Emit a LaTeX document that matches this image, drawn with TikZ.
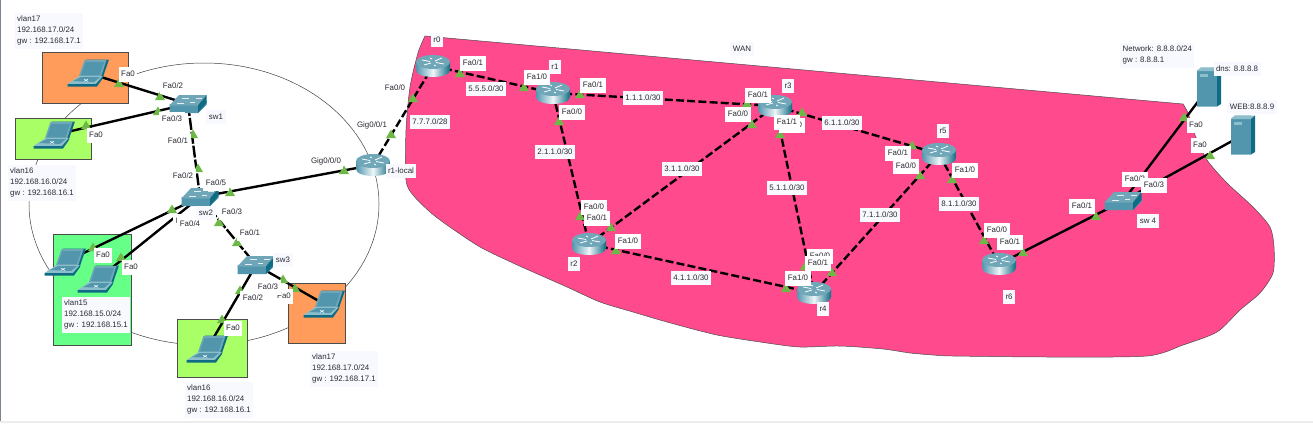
\documentclass[tikz,border=0pt]{standalone}
\usepackage{fontspec}
\setmainfont{Liberation Sans}
\definecolor{blobpink}{HTML}{FF4A8D}
\definecolor{ptgreen}{HTML}{6DB846}
\definecolor{orangebox}{HTML}{FF9C5C}
\definecolor{limebox}{HTML}{A8FF66}
\definecolor{mintbox}{HTML}{66FF88}
\definecolor{icontop}{HTML}{6FA6B8}
\definecolor{iconmain}{HTML}{5296AE}
\definecolor{icondark}{HTML}{0F6C84}
\definecolor{iconlight}{HTML}{8DBECB}
\definecolor{notebg}{HTML}{F8F9FF}
\definecolor{txt}{HTML}{2A2A33}
\definecolor{edgegray}{HTML}{7C8494}
\newcounter{lblc}
\tikzset{
 dev/.style={inner sep=0pt,outer sep=0pt,minimum width=#1,minimum height=20pt},
 solidlink/.style={line width=2.4pt,black},
 dashlink/.style={line width=2.4pt,black,dash pattern=on 8pt off 3.2pt},
 longdash/.style={line width=2.4pt,black,dash pattern=on 12pt off 2pt},
 vbox/.style={draw=black!70,line width=0.9pt},
 iflabel/.style={fill=white,inner xsep=2.5pt,inner ysep=0pt,minimum height=15pt,text=txt,font=\fontsize{7.9}{10}\selectfont},
 notelabel/.style={fill=notebg,inner xsep=2.5pt,inner ysep=0pt,minimum height=14pt,text=txt,font=\fontsize{7.9}{10}\selectfont},
 blocklabel/.style={fill=notebg,align=left,inner xsep=2.5pt,inner ysep=3pt,text=txt,font=\fontsize{7.9}{11}\selectfont},
}
\newcommand{\lbl}[3]{\stepcounter{lblc}\node[iflabel] (if\arabic{lblc}) at (#1,#2) {#3};}
\newcommand{\nlbl}[3]{\stepcounter{lblc}\node[notelabel] (nl\arabic{lblc}) at (#1,#2) {#3};}
\newcommand{\tri}[2]{\fill[ptgreen] (#1-5,#2+4) -- (#1,#2-4.5) -- (#1+5,#2+4) -- cycle;}
\newcommand{\routericon}[1]{\begin{scope}[shift={(#1.center)}]
 \path[left color=iconmain,right color=icondark,middle color=white!85!iconlight,shading angle=90] (-17,-4) -- (-17,4) .. controls (-17,13.3) and (17,13.3) .. (17,4) -- (17,-4) -- cycle;
 \fill[icontop] (0,-4) ellipse [x radius=17,y radius=7];
 \draw[white,line width=0.8pt] (-11,-6) -- (-3,-4.5) (3,-3.5) -- (11,-2) (-9,-1) -- (-2,-3) (2,-5) -- (9,-8) (-3,-8) -- (-1,-7) (1,-1) -- (3,0);
 \end{scope}}
\newcommand{\switchicon}[1]{\begin{scope}[shift={(#1.center)}]
 \fill[iconmain] (-18.5,0) -- (18.5,-3) -- (18.5,1) -- (10,9) -- (-18.5,9) -- cycle;
 \fill[icontop] (-18.5,1.5) -- (-9,-9) -- (18.5,-9) -- (10,1.5) -- cycle;
 \fill[icondark] (10,1.5) -- (18.5,-9) -- (18.5,-1) -- (10,9) -- cycle;
 \draw[white!85!iconmain,line width=0.7pt] (-11,-1) -- (-4,-1) (-6,-6) -- (1,-6) (2,-1.5) -- (7,-1.5) (8,-6) -- (14,-6);
 \end{scope}}
\newcommand{\laptopicon}[1]{\begin{scope}[shift={(#1.center)}]
 \fill[icondark] (-8,3) -- (-2,-13.5) -- (21,-13.5) -- (15,4) -- cycle;
 \fill[icontop] (-9,3) -- (-3.5,-13) -- (18.5,-13) -- (13,4) -- cycle;
 \fill[iconmain] (-7,2) -- (-2.5,-11) -- (16,-11) -- (11.5,2) -- cycle;
 \fill[iconlight] (-20.5,11) -- (-8.5,3) -- (15,3) -- (8,11) -- cycle;
 \fill[icondark] (-20.5,11) -- (8,11) -- (15,3) -- (15,5) -- (9,13.5) -- (-20.5,13.5) -- cycle;
 \fill[iconmain] (-15,8) -- (-7,4) -- (12,4) -- (6,9) -- cycle;
 \draw[white,line width=0.5pt] (-4,8.5) -- (0,6) (-4,6) -- (0,8.5);
 \end{scope}}
\newcommand{\servericon}[1]{\begin{scope}[shift={(#1.center)}]
 \fill[iconmain] (-12,-16) -- (-8,-19.5) -- (8,-19.5) -- (8,19.5) -- (-12,19.5) -- cycle;
 \fill[iconlight] (-12,-16) -- (-8,-19.5) -- (12,-19.5) -- (8,-16) -- cycle;
 \fill[icondark] (8,-16) -- (12,-19.5) -- (12,17) -- (8,19.5) -- cycle;
 \fill[iconlight] (-9.5,-13.5) rectangle (-1,-10.5);
 \end{scope}}
\begin{document}
\begin{tikzpicture}[x=1pt,y=-1pt]
\useasboundingbox (0,0) rectangle (1313,423);
\fill[white] (0,0) rectangle (1313,423);
\fill[edgegray] (0,0) rectangle (1.4,421);
\fill[black!7] (0,421) rectangle (1313,423);
% WAN cloud
\fill[blobpink,draw=black!70,line width=0.5pt] (425,36) -- (1183,104) -- plot[smooth,tension=0.45] coordinates {(1183,104) (1188,113) (1195,135) (1207,160)
 (1227,183) (1253,207) (1270,227) (1274,247) (1273,273) (1260,293) (1240,310) (1217,332)
 (1183,345) (1147,356) (1050,357) (953,356) (933,355) (910,353) (883,349) (840,346) (800,347) (767,343)
 (717,335) (667,322) (633,312) (600,302) (567,287) (533,272) (513,263) (480,247) (447,225)
 (430,212) (413,195) (406,180) (406,130) (410,87) (418,53) (425,36)} -- cycle;
% big ring
\draw[black!75,line width=0.5pt] (204,204) ellipse [x radius=175,y radius=141];
% VLAN boxes
\filldraw[fill=orangebox,vbox] (42,52) rectangle (128,103);
\filldraw[fill=limebox,vbox] (15,118) rectangle (91,159);
\filldraw[fill=mintbox,vbox] (53,234) rectangle (131,345);
\filldraw[fill=limebox,vbox] (177,319) rectangle (247,377);
\filldraw[fill=orangebox,vbox] (288,283) rectangle (345,343);
% device anchors
\node[dev=34pt] (r0) at (433,66) {};
\node[dev=34pt] (r1) at (553,93) {};
\node[dev=34pt] (r2) at (589,244) {};
\node[dev=34pt] (r3) at (775,106) {};
\node[dev=34pt] (r4) at (814,293) {};
\node[dev=34pt] (r5) at (939,154) {};
\node[dev=34pt] (r6) at (999,264) {};
\node[dev=34pt] (rl) at (373,165) {};
\node[dev=37pt] (sw1) at (188,104) {};
\node[dev=37pt] (sw2) at (200,197) {};
\node[dev=37pt] (sw3) at (256,265) {};
\node[dev=37pt] (sw4) at (1123,201) {};
\node[dev=40pt] (pc1) at (88,73) {};
\node[dev=40pt] (pc2) at (54,135) {};
\node[dev=40pt] (pc3) at (65,262) {};
\node[dev=40pt] (pc4) at (98,279) {};
\node[dev=40pt] (pc5) at (207,349) {};
\node[dev=40pt] (pc6) at (324,304) {};
\node[dev=24pt] (dns) at (1209,87) {};
\node[dev=24pt] (web) at (1243,135) {};
% links
\draw[solidlink] (pc1.center) -- (sw1.center);
\draw[solidlink] (pc2.center) -- (sw1.center);
\draw[longdash] (sw1.center) -- (sw2.center);
\draw[solidlink] (sw2.center) -- (rl.center);
\draw[solidlink] (sw2.center) -- (pc3.center);
\draw[solidlink] (sw2.center) -- (pc4.center);
\draw[longdash] (sw2.center) -- (sw3.center);
\draw[solidlink] (sw3.center) -- (pc5.center);
\draw[solidlink] (sw3.center) -- (pc6.center);
\draw[dashlink] (rl.center) -- (r0.center);
\draw[dashlink] (r0.center) -- (r1.center);
\draw[dashlink] (r1.center) -- (r3.center);
\draw[dashlink] (r1.center) -- (r2.center);
\draw[dashlink] (r2.center) -- (r3.center);
\draw[dashlink] (r2.center) -- (r4.center);
\draw[dashlink] (r3.center) -- (r4.center);
\draw[dashlink] (r3.center) -- (r5.center);
\draw[dashlink] (r4.center) -- (r5.center);
\draw[dashlink] (r5.center) -- (r6.center);
\draw[solidlink] (r6.center) -- (sw4.center);
\draw[solidlink] (sw4.center) -- (dns.center);
\draw[solidlink] (sw4.center) -- (web.center);
% link lights
\tri{119}{83}\tri{160}{96}\tri{158}{111}\tri{86}{125}\tri{193}{134}\tri{198}{168}\tri{230}{192}
\tri{344}{170}\tri{391}{134}\tri{172}{209}\tri{219}{222}\tri{237}{242}\tri{93}{247}\tri{121}{257}
\tri{240}{290}\tri{222}{319}\tri{283}{279}\tri{295}{288}\tri{413}{98}\tri{460}{73}\tri{524}{87}
\tri{580}{94}\tri{747}{103}\tri{752}{124}\tri{802}{112}\tri{780}{134}\tri{559}{121}\tri{580}{216}
\tri{611}{227}\tri{616}{250}\tri{786}{288}\tri{805}{266}\tri{832}{272}\tri{912}{145}\tri{920}{175}
\tri{952}{179}\tri{984}{240}\tri{1023}{252}\tri{1096}{216}\tri{1184}{117}\tri{1210}{155}
% icons
\routericon{r0}\routericon{r1}\routericon{r2}\routericon{r3}\routericon{r4}\routericon{r5}\routericon{r6}\routericon{rl}
\switchicon{sw1}\switchicon{sw2}\switchicon{sw3}\switchicon{sw4}
\laptopicon{pc1}\laptopicon{pc2}\laptopicon{pc3}\laptopicon{pc4}\laptopicon{pc5}\laptopicon{pc6}
\servericon{dns}\servericon{web}
% interface labels
\lbl{128}{74}{Fa0}\lbl{173}{86}{Fa0/2}\lbl{172}{119}{Fa0/3}\lbl{96}{135}{Fa0}\lbl{178}{141}{Fa0/1}
\lbl{183}{176}{Fa0/2}\lbl{216}{183}{Fa0/5}\lbl{232}{212}{Fa0/3}\lbl{186}{221}{Fa0/1}\lbl{190}{224}{Fa0/4}
\lbl{103}{255}{Fa0}\lbl{131}{267}{Fa0}\lbl{250}{233}{Fa0/1}\lbl{284}{296}{Fa0}\lbl{268}{287}{Fa0/3}
\lbl{253}{298}{Fa0/2}\lbl{233}{328}{Fa0}\lbl{372}{125}{Gig0/0/1}\lbl{326}{161}{Gig0/0/0}
\lbl{395}{88}{Fa0/0}\lbl{473}{63}{Fa0/1}\lbl{537}{77}{Fa1/0}\lbl{593}{85}{Fa0/1}\lbl{572}{112}{Fa0/0}
\lbl{738}{114}{Fa0/0}\lbl{758}{95}{Fa0/1}\lbl{792}{125}{Fa1/0}\lbl{787}{122}{Fa1/1}
\lbl{594}{207}{Fa0/0}\lbl{597}{218}{Fa0/1}\lbl{628}{241}{Fa1/0}\lbl{820}{256}{Fa0/0}\lbl{818}{263}{Fa0/1}\lbl{798}{278}{Fa1/0}
\lbl{898}{153}{Fa0/1}\lbl{906}{166}{Fa0/0}\lbl{965}{170}{Fa1/0}\lbl{997}{230}{Fa0/0}\lbl{1010}{242}{Fa0/1}
\lbl{1082}{206}{Fa0/1}\lbl{1135}{179}{Fa0/2}\lbl{1154}{185}{Fa0/3}\lbl{1196}{125}{Fa0}\lbl{1200}{145}{Fa0}
% subnets and names
\nlbl{742}{49}{WAN}\nlbl{437}{40}{r0}\nlbl{555}{67}{r1}\nlbl{788}{86}{r3}\nlbl{574}{264}{r2}\nlbl{823}{309}{r4}
\nlbl{943}{131}{r5}\nlbl{1009}{297}{r6}\nlbl{401}{171}{r1-local}\nlbl{216}{117}{sw1}\nlbl{206}{213}{sw2}\nlbl{283}{260}{sw3}\nlbl{1148}{221}{sw 4}
\nlbl{486}{89}{5.5.5.0/30}\nlbl{643}{98}{1.1.1.0/30}\nlbl{430}{122}{7.7.7.0/28}\nlbl{842}{123}{6.1.1.0/30}
\nlbl{555}{152}{2.1.1.0/30}\nlbl{682}{169}{3.1.1.0/30}\nlbl{787}{188}{5.1.1.0/30}\nlbl{880}{215}{7.1.1.0/30}
\nlbl{959}{204}{8.1.1.0/30}\nlbl{691}{278}{4.1.1.0/30}\nlbl{1237}{69}{dns: 8.8.8.8}\nlbl{1252}{107}{WEB:8.8.8.9}
% address blocks
\node[blocklabel,anchor=north west] (b17a) at (14.5,13) {vlan17\\192.168.17.0/24\\gw : 192.168.17.1};
\node[blocklabel,anchor=north west] (b16a) at (7.5,165) {vlan16\\192.168.16.0/24\\gw : 192.168.16.1};
\node[blocklabel,anchor=north west] (b15) at (61.5,297) {vlan15\\192.168.15.0/24\\gw : 192.168.15.1};
\node[blocklabel,anchor=north west] (b16b) at (184.5,382) {vlan16\\192.168.16.0/24\\gw : 192.168.16.1};
\node[blocklabel,anchor=north west] (b17b) at (309.5,351) {vlan17\\192.168.17.0/24\\gw : 192.168.17.1};
\node[blocklabel,anchor=north west] (bnet) at (1120,43) {Network: 8.8.8.0/24\\gw : 8.8.8.1};
\end{tikzpicture}
\end{document}
